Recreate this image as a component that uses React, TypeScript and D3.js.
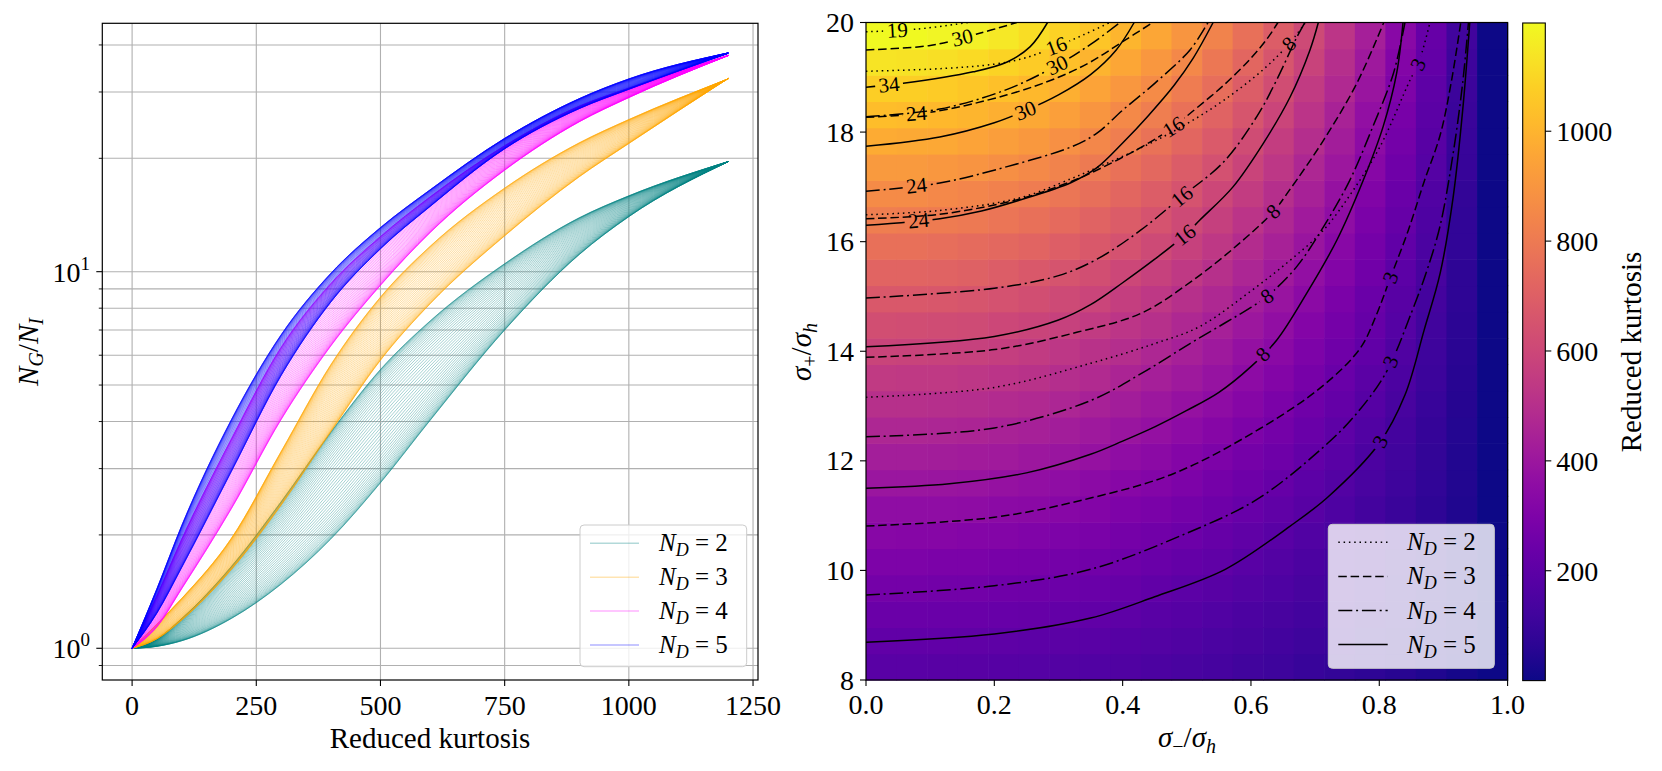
import React from 'react';
import * as d3 from 'd3';

const W = 1662;
const H = 771;
const TS: React.CSSProperties = { fontFamily: 'Liberation Serif, Times New Roman, serif' };

// ---- left panel: N_G/N_I vs reduced kurtosis, one band of curves per N_D ----
const kurtGrid = [0, 50, 100, 200, 300, 400, 500, 600, 750, 900, 1000, 1200];
const tealLower = [1, 1.012, 1.047, 1.2, 1.48, 1.95, 2.75, 4.03, 7.0, 11.1, 14.0, 19.6];
const tealUpper = [1, 1.059, 1.2, 1.65, 2.45, 3.75, 5.5, 7.4, 10.5, 13.9, 15.9, 19.6];
const orangeLower = [1, 1.059, 1.189, 1.62, 2.4, 3.76, 5.82, 8.22, 12.45, 17.86, 21.9, 32.6];
const orangeUpper = [1, 1.16, 1.357, 1.96, 3.33, 5.66, 8.56, 11.68, 16.67, 21.98, 25.35, 32.5];
const magentaLower = [1, 1.14, 1.44, 2.35, 4.05, 6.35, 9.2, 12.7, 18.6, 25.0, 29.0, 37.5];
const magentaUpper = [1, 1.38, 1.95, 3.6, 6.3, 9.3, 12.4, 15.8, 21.6, 27.5, 30.7, 37.5];
const blueLower = [1, 1.24, 1.64, 2.95, 5.3, 8.3, 11.5, 14.9, 21.2, 27.1, 30.5, 38];
const blueUpper = [1, 1.44, 2.12, 4.05, 6.8, 9.9, 13.1, 16.5, 22.6, 28.8, 32.5, 38.1];

const ndValues = [2, 3, 4, 5];
const bandColors = ['teal', 'orange', 'magenta', 'blue'];
const curvesPerBand = 50;

const xTicksL = [0, 250, 500, 750, 1000, 1250];
const yMajorL = [1, 10];
const yMinorL = [0.9, 2, 3, 4, 5, 6, 7, 8, 9, 20, 30, 40];

// ---- right panel: reduced kurtosis map over sigma_-/sigma_h, sigma_+/sigma_h ----
const sigmaMinus = [0, 0.05, 0.1, 0.15, 0.2, 0.25, 0.3, 0.35, 0.4, 0.45, 0.5, 0.55, 0.6, 0.65, 0.7, 0.75, 0.8, 0.85, 0.9, 0.95, 1.0];
const sigmaPlus = [8, 8.5, 9, 9.5, 10, 10.5, 11, 11.5, 12, 12.5, 13, 13.5, 14, 14.5, 15, 15.5, 16, 16.5, 17, 17.5, 18, 18.5, 19, 19.5, 20];
const kurtosisMap = [
  [189, 189, 187, 185, 181, 177, 172, 166, 159, 151, 142, 132, 121, 109, 96, 83, 68, 52, 36, 18, 0],
  [214, 213, 212, 209, 205, 200, 195, 188, 180, 170, 160, 149, 137, 123, 109, 94, 77, 59, 41, 21, 0],
  [240, 239, 238, 235, 230, 225, 218, 211, 202, 191, 180, 167, 154, 139, 122, 105, 86, 67, 46, 23, 0],
  [268, 267, 265, 262, 257, 251, 244, 235, 225, 214, 201, 187, 171, 155, 137, 117, 96, 74, 51, 26, 0],
  [297, 296, 294, 290, 285, 278, 270, 261, 249, 237, 223, 207, 190, 172, 151, 130, 107, 82, 56, 29, 0],
  [328, 327, 324, 320, 315, 307, 298, 288, 275, 261, 246, 229, 210, 189, 167, 143, 118, 91, 62, 32, 0],
  [360, 359, 356, 352, 346, 338, 328, 316, 302, 287, 270, 251, 230, 208, 184, 158, 130, 100, 68, 35, 0],
  [394, 393, 390, 385, 378, 369, 358, 346, 331, 314, 295, 275, 252, 227, 201, 172, 142, 109, 75, 38, 0],
  [429, 428, 425, 419, 412, 402, 390, 376, 360, 342, 322, 299, 275, 248, 219, 188, 154, 119, 82, 42, 0],
  [466, 465, 461, 455, 447, 437, 424, 409, 391, 371, 349, 325, 298, 269, 238, 204, 168, 129, 88, 45, 0],
  [504, 503, 499, 493, 484, 473, 459, 442, 423, 402, 378, 352, 323, 291, 257, 221, 181, 140, 96, 49, 0],
  [544, 542, 538, 532, 522, 510, 495, 477, 457, 434, 408, 379, 348, 314, 277, 238, 196, 151, 103, 53, 0],
  [585, 584, 579, 572, 562, 548, 532, 513, 491, 467, 439, 408, 374, 338, 298, 256, 211, 162, 111, 57, 0],
  [628, 626, 621, 614, 603, 589, 571, 551, 527, 501, 471, 438, 402, 363, 320, 275, 226, 174, 119, 61, 0],
  [672, 670, 665, 657, 645, 630, 612, 590, 564, 536, 504, 469, 430, 388, 343, 294, 242, 186, 128, 66, 0],
  [718, 716, 711, 702, 689, 673, 653, 630, 603, 572, 538, 501, 459, 414, 366, 314, 258, 199, 136, 70, 0],
  [765, 763, 757, 748, 734, 717, 696, 671, 643, 610, 574, 534, 490, 442, 390, 335, 275, 212, 145, 75, 0],
  [814, 812, 806, 795, 781, 763, 741, 714, 684, 649, 610, 568, 521, 470, 415, 356, 293, 226, 155, 79, 0],
  [864, 862, 855, 845, 829, 810, 786, 758, 726, 689, 648, 603, 553, 499, 441, 378, 311, 240, 164, 84, 0],
  [916, 913, 907, 895, 879, 859, 833, 804, 769, 730, 687, 639, 586, 529, 467, 401, 330, 254, 174, 89, 0],
  [969, 967, 959, 947, 930, 908, 882, 850, 814, 773, 727, 676, 620, 560, 494, 424, 349, 269, 184, 94, 0],
  [1024, 1021, 1014, 1001, 983, 960, 932, 898, 860, 816, 768, 714, 655, 591, 522, 448, 369, 284, 195, 100, 0],
  [1080, 1077, 1069, 1056, 1037, 1013, 983, 948, 907, 861, 810, 753, 691, 624, 551, 473, 389, 300, 205, 105, 0],
  [1138, 1135, 1126, 1112, 1092, 1067, 1035, 998, 956, 907, 853, 794, 728, 657, 580, 498, 410, 316, 216, 111, 0],
  [1197, 1194, 1185, 1170, 1149, 1122, 1089, 1050, 1005, 955, 898, 835, 766, 691, 610, 524, 431, 332, 227, 117, 0],
];

// contour lines of N_G/N_I, points as [sigma_-/sigma_h, sigma_+/sigma_h]
const solid3 = [[0, 8.69], [0.2, 8.84], [0.35, 9.13], [0.45, 9.52], [0.56, 10.02], [0.66, 10.8], [0.72, 11.34], [0.8, 12.32], [0.84, 13.2], [0.87, 14.39], [0.895, 15.43], [0.915, 16.8], [0.93, 18.4], [0.941, 20]];
const dashdot3 = [[0, 9.55], [0.2, 9.72], [0.35, 10.02], [0.5, 10.68], [0.61, 11.3], [0.71, 12.22], [0.76, 12.8], [0.81, 13.6], [0.85, 14.7], [0.875, 15.5], [0.895, 16.3], [0.915, 17.6], [0.93, 18.9], [0.939, 20]];
const dashed3 = [[0, 10.81], [0.2, 10.97], [0.35, 11.32], [0.48, 11.77], [0.61, 12.56], [0.71, 13.35], [0.77, 14.05], [0.795, 14.65], [0.816, 15.3], [0.845, 16.2], [0.87, 17.1], [0.895, 17.95], [0.912, 18.9], [0.927, 20]];
const solid8 = [[0, 11.5], [0.13, 11.58], [0.25, 11.78], [0.35, 12.12], [0.4, 12.36], [0.45, 12.62], [0.5, 12.92], [0.55, 13.25], [0.6, 13.72], [0.64, 14.2], [0.687, 15.06], [0.734, 16.03], [0.775, 17.12], [0.806, 18.1], [0.827, 19.07], [0.837, 20]];
const dashdot8 = [[0, 12.44], [0.2, 12.6], [0.35, 13.1], [0.43, 13.6], [0.505, 14.14], [0.56, 14.52], [0.6, 14.8], [0.627, 15.02], [0.671, 15.54], [0.713, 16.27], [0.754, 17.12], [0.79, 18.1], [0.822, 19.07], [0.84, 20]];
const dotted3 = [[0, 13.16], [0.2, 13.34], [0.35, 13.78], [0.45, 14.14], [0.52, 14.45], [0.6, 15.1], [0.66, 15.65], [0.713, 16.21], [0.76, 16.95], [0.801, 17.73], [0.848, 18.95], [0.861, 19.25], [0.879, 20]];
const dashed8 = [[0, 13.89], [0.2, 14.03], [0.33, 14.35], [0.43, 14.7], [0.51, 15.3], [0.58, 15.95], [0.635, 16.55], [0.66, 16.94], [0.713, 17.85], [0.765, 18.89], [0.807, 20]];
const solid16 = [[0, 14.08], [0.2, 14.27], [0.3, 14.57], [0.35, 14.85], [0.4, 15.25], [0.45, 15.68], [0.497, 16.12], [0.52, 16.39], [0.572, 17.0], [0.619, 17.79], [0.661, 18.64], [0.692, 19.5], [0.705, 20]];
const dashdot16 = [[0, 14.97], [0.2, 15.15], [0.3, 15.38], [0.36, 15.68], [0.427, 16.2], [0.492, 16.82], [0.557, 17.45], [0.61, 18.3], [0.64, 18.95], [0.671, 19.72], [0.684, 20]];
const solid24 = [[0, 16.3], [0.115, 16.42], [0.18, 16.56], [0.24, 16.76], [0.32, 17.08], [0.36, 17.35], [0.4, 17.8], [0.44, 18.3], [0.48, 18.85], [0.51, 19.35], [0.541, 20]];
const dashed16 = [[0, 16.42], [0.115, 16.5], [0.24, 16.78], [0.32, 17.1], [0.35, 17.25], [0.43, 17.73], [0.48, 18.1], [0.505, 18.34], [0.557, 18.85], [0.6, 19.35], [0.625, 19.7], [0.642, 20]];
const dotted8 = [[0, 16.49], [0.115, 16.57], [0.24, 16.8], [0.32, 17.15], [0.35, 17.3], [0.43, 17.72], [0.5, 18.15], [0.56, 18.6], [0.62, 19.15], [0.66, 19.62], [0.685, 20]];
const dashdot24 = [[0, 16.92], [0.115, 17.07], [0.22, 17.37], [0.32, 17.73], [0.36, 17.98], [0.4, 18.4], [0.45, 18.89], [0.505, 19.5], [0.533, 20]];
const solid30 = [[0, 17.74], [0.115, 17.91], [0.2, 18.17], [0.25, 18.4], [0.3, 18.68], [0.35, 19.05], [0.39, 19.5], [0.418, 20]];
const dashdot30 = [[0, 18.28], [0.115, 18.42], [0.22, 18.78], [0.298, 19.22], [0.35, 19.6], [0.396, 20]];
const dashed24 = [[0, 18.27], [0.1, 18.36], [0.22, 18.68], [0.3, 19.0], [0.35, 19.28], [0.4, 19.65], [0.447, 20]];
const solid34 = [[0, 18.82], [0.058, 18.89], [0.167, 19.1], [0.22, 19.28], [0.256, 19.56], [0.283, 20]];
const dotted16 = [[0, 19.11], [0.12, 19.16], [0.2, 19.24], [0.25, 19.36], [0.3, 19.58], [0.34, 19.78], [0.38, 20]];
const dashed30 = [[0, 19.5], [0.1, 19.58], [0.167, 19.77], [0.235, 20]];
const dotted19 = [[0, 19.83], [0.08, 19.88], [0.16, 20]];

const contourLines = [
  { pts: solid3, nd: 5, label: '3', at: [0.797, 12.38] },
  { pts: dashdot3, nd: 4, label: '3', at: [0.816, 13.82] },
  { pts: dashed3, nd: 3, label: '3', at: [0.816, 15.35] },
  { pts: solid8, nd: 5, label: '8', at: [0.616, 13.97] },
  { pts: dashdot8, nd: 4, label: '8', at: [0.627, 14.97] },
  { pts: dotted3, nd: 2, label: '3', at: [0.858, 19.25] },
  { pts: dashed8, nd: 3, label: '8', at: [0.635, 16.55] },
  { pts: solid16, nd: 5, label: '16', at: [0.497, 16.12] },
  { pts: dashdot16, nd: 4, label: '16', at: [0.492, 16.83] },
  { pts: solid24, nd: 5, label: '24', at: [0.082, 16.37] },
  { pts: dashed16, nd: 3, label: '16', at: [0.479, 18.1] },
  { pts: dotted8, nd: 2, label: '8', at: [0.66, 19.6] },
  { pts: dashdot24, nd: 4, label: '24', at: [0.079, 17.0] },
  { pts: solid30, nd: 5, label: '30', at: [0.246, 18.47] },
  { pts: dashdot30, nd: 4, label: '30', at: [0.298, 19.22] },
  { pts: dashed24, nd: 3, label: '24', at: [0.079, 18.3] },
  { pts: solid34, nd: 5, label: '34', at: [0.036, 18.86] },
  { pts: dotted16, nd: 2, label: '16', at: [0.295, 19.62] },
  { pts: dashed30, nd: 3, label: '30', at: [0.151, 19.68] },
  { pts: dotted19, nd: 2, label: '19', at: [0.049, 19.86] },
];

const dashFor: Record<number, string> = { 2: '1.5 3.8', 3: '8.5 3.8', 4: '14 3.8 2 3.8', 5: '' };

const xTicksR = [0, 0.2, 0.4, 0.6, 0.8, 1.0];
const yTicksR = [8, 10, 12, 14, 16, 18, 20];
const cbTicks = [200, 400, 600, 800, 1000];

// ---- scales ----
const xL = d3.scaleLinear().domain([-60, 1260]).range([102.3, 758]);
const yL = d3.scaleLog().domain([0.8237, 45.66]).range([680, 23.3]);
const xR = d3.scaleLinear().domain([0, 1]).range([866, 1507.6]);
const yR = d3.scaleLinear().domain([8, 20]).range([680, 22.5]);
const kMax = d3.max(kurtosisMap.flat()) as number;
const kMin = d3.min(kurtosisMap.flat()) as number;
const color = d3.scaleSequential(d3.interpolatePlasma).domain([kMin, kMax]);
const cbX = 1522.7;
const cbW = 22.6;
const yC = d3.scaleLinear().domain([kMin, kMax]).range([680.6, 23]);

const bandLine = d3.line<[number, number]>().curve(d3.curveMonotoneX);
const contourPath = d3.line<[number, number]>().curve(d3.curveCatmullRom.alpha(0.5));

function bandCurves(lower: number[], upper: number[]) {
  const out: string[] = [];
  for (let k = 0; k < curvesPerBand; k++) {
    const t = (1 - Math.cos((Math.PI * k) / (curvesPerBand - 1))) / 2;
    const pts = kurtGrid.map((kx, i) => {
      const v = Math.exp((1 - t) * Math.log(lower[i]) + t * Math.log(upper[i]));
      return [xL(kx), yL(v)] as [number, number];
    });
    out.push(bandLine(pts) as string);
  }
  return out;
}

const bands = [
  bandCurves(tealLower, tealUpper),
  bandCurves(orangeLower, orangeUpper),
  bandCurves(magentaLower, magentaUpper),
  bandCurves(blueLower, blueUpper),
];

// place a label on its contour: nearest point and local direction
function labelPlacement(px: [number, number][], at: [number, number]) {
  let best = { d: Infinity, x: at[0], y: at[1], a: 0 };
  for (let i = 0; i < px.length - 1; i++) {
    const [x1, y1] = px[i];
    const [x2, y2] = px[i + 1];
    const dx = x2 - x1;
    const dy = y2 - y1;
    const len2 = dx * dx + dy * dy;
    let u = ((at[0] - x1) * dx + (at[1] - y1) * dy) / len2;
    u = Math.max(0, Math.min(1, u));
    const qx = x1 + u * dx;
    const qy = y1 + u * dy;
    const d = (qx - at[0]) ** 2 + (qy - at[1]) ** 2;
    if (d < best.d) {
      let a = (Math.atan2(dy, dx) * 180) / Math.PI;
      if (a > 90) a -= 180;
      if (a < -90) a += 180;
      best = { d, x: qx, y: qy, a };
    }
  }
  return best;
}

const ND = ({ n }: { n: number }) => (
  <>
    <tspan fontStyle="italic">N</tspan>
    <tspan fontStyle="italic" fontSize={18} dy={5}>D</tspan>
    <tspan dy={-5}>{` = ${n}`}</tspan>
  </>
);

const App: React.FC = () => {
  const nCols = sigmaMinus.length;
  const nRows = sigmaPlus.length;
  const cellW = (xR(1) - xR(0)) / nCols;
  const cellH = (yR(8) - yR(20)) / nRows;

  const contours = contourLines.map((c) => {
    const px = c.pts.map(([x, y]) => [xR(x), yR(y)] as [number, number]);
    const lp = labelPlacement(px, [xR(c.at[0]), yR(c.at[1])]);
    return { ...c, px, d: contourPath(px) as string, lp };
  });

  const gradStops = d3.range(0, 1.0001, 0.05);

  return (
    <svg width={W} height={H} style={{ position: 'absolute', left: 0, top: 0, ...TS }}>
      <defs>
        <clipPath id="clipR">
          <rect x={xR(0)} y={yR(20)} width={xR(1) - xR(0)} height={yR(8) - yR(20)} />
        </clipPath>
        <linearGradient id="cbGrad" x1="0" y1="1" x2="0" y2="0">
          {gradStops.map((t) => (
            <stop key={t} offset={t} stopColor={d3.interpolatePlasma(t)} />
          ))}
        </linearGradient>
        {contours.map((c, i) => {
          const w = c.label.length * 10 + 8;
          return (
            <mask id={`cm${i}`} key={i} maskUnits="userSpaceOnUse" x={0} y={0} width={W} height={H}>
              <rect x={0} y={0} width={W} height={H} fill="white" />
              <rect
                x={-w / 2}
                y={-8}
                width={w}
                height={16}
                fill="black"
                transform={`translate(${c.lp.x},${c.lp.y}) rotate(${c.lp.a})`}
              />
            </mask>
          );
        })}
      </defs>
      <rect width={W} height={H} fill="white" />

      {/* ---------- left panel ---------- */}
      <g>
        {xTicksL.map((t) => (
          <line key={t} x1={xL(t)} x2={xL(t)} y1={23.3} y2={680} stroke="#b0b0b0" strokeWidth={1.1} />
        ))}
        {[...yMajorL, ...yMinorL].map((t) => (
          <line key={t} x1={102.3} x2={758} y1={yL(t)} y2={yL(t)} stroke="#b0b0b0" strokeWidth={1.1} />
        ))}
        {bands.map((paths, b) => (
          <g key={b} fill="none" stroke={bandColors[b]} strokeWidth={0.8} strokeOpacity={0.45}>
            {paths.map((d, i) => (
              <path key={i} d={d} />
            ))}
          </g>
        ))}
        <rect x={102.3} y={23.3} width={758 - 102.3} height={680 - 23.3} fill="none" stroke="black" strokeWidth={1.2} />
        {xTicksL.map((t) => (
          <g key={t}>
            <line x1={xL(t)} x2={xL(t)} y1={680} y2={686} stroke="black" strokeWidth={1.1} />
            <text x={xL(t)} y={715} fontSize={28} textAnchor="middle" style={TS}>{t}</text>
          </g>
        ))}
        {yMajorL.map((t, i) => (
          <g key={t}>
            <line x1={96.3} x2={102.3} y1={yL(t)} y2={yL(t)} stroke="black" strokeWidth={1.1} />
            <text x={90} y={yL(t) + 10} fontSize={28} textAnchor="end" style={TS}>
              10<tspan fontSize={19} dy={-12}>{i}</tspan>
            </text>
          </g>
        ))}
        {yMinorL.map((t) => (
          <line key={t} x1={98.8} x2={102.3} y1={yL(t)} y2={yL(t)} stroke="black" strokeWidth={0.9} />
        ))}
        <text x={430} y={748} fontSize={29} textAnchor="middle" style={TS}>Reduced kurtosis</text>
        <text transform="translate(38,352) rotate(-90)" fontSize={29} textAnchor="middle" style={TS}>
          <tspan fontStyle="italic">N</tspan>
          <tspan fontStyle="italic" fontSize={20} dy={5}>G</tspan>
          <tspan dy={-5}>/</tspan>
          <tspan fontStyle="italic">N</tspan>
          <tspan fontStyle="italic" fontSize={20} dy={5}>I</tspan>
        </text>
        {/* legend */}
        <rect x={580} y={525} width={166.7} height={141.7} rx={4} fill="white" fillOpacity={0.8} stroke="#cccccc" strokeWidth={1} />
        {ndValues.map((n, i) => {
          const y = 543.3 + i * 33.9;
          return (
            <g key={n}>
              <line x1={590} x2={639} y1={y} y2={y} stroke={bandColors[i]} strokeOpacity={0.3} strokeWidth={1.5} />
              <text x={659} y={y + 8} fontSize={25} style={TS}><ND n={n} /></text>
            </g>
          );
        })}
      </g>

      {/* ---------- right panel ---------- */}
      <g>
        {kurtosisMap.map((row, i) =>
          row.map((v, j) => (
            <rect
              key={`${i}-${j}`}
              x={xR(0) + j * cellW}
              y={yR(8) - (i + 1) * cellH}
              width={cellW + 0.6}
              height={cellH + 0.6}
              fill={color(v)}
            />
          ))
        )}
        <g clipPath="url(#clipR)">
          {contours.map((c, i) => (
            <path
              key={i}
              d={c.d}
              fill="none"
              stroke="black"
              strokeWidth={1.5}
              strokeDasharray={dashFor[c.nd]}
              mask={`url(#cm${i})`}
            />
          ))}
        </g>
        {contours.map((c, i) => (
          <text
            key={i}
            transform={`translate(${c.lp.x},${c.lp.y}) rotate(${c.lp.a})`}
            fontSize={21}
            textAnchor="middle"
            dominantBaseline="central"
            style={TS}
          >
            {c.label}
          </text>
        ))}
        <rect x={866} y={22.5} width={641.6} height={657.5} fill="none" stroke="black" strokeWidth={1.2} />
        {xTicksR.map((t) => (
          <g key={t}>
            <line x1={xR(t)} x2={xR(t)} y1={680} y2={686} stroke="black" strokeWidth={1.1} />
            <text x={xR(t)} y={714} fontSize={28} textAnchor="middle" style={TS}>{t.toFixed(1)}</text>
          </g>
        ))}
        {yTicksR.map((t) => (
          <g key={t}>
            <line x1={860} x2={866} y1={yR(t)} y2={yR(t)} stroke="black" strokeWidth={1.1} />
            <text x={854} y={yR(t) + 9.5} fontSize={28} textAnchor="end" style={TS}>{t}</text>
          </g>
        ))}
        <text x={1187} y={747} fontSize={29} textAnchor="middle" style={TS}>
          <tspan fontStyle="italic">σ</tspan>
          <tspan fontSize={20} dy={6}>−</tspan>
          <tspan dy={-6}>/</tspan>
          <tspan fontStyle="italic">σ</tspan>
          <tspan fontStyle="italic" fontSize={20} dy={6}>h</tspan>
        </text>
        <text transform="translate(811,352) rotate(-90)" fontSize={29} textAnchor="middle" style={TS}>
          <tspan fontStyle="italic">σ</tspan>
          <tspan fontSize={20} dy={6}>+</tspan>
          <tspan dy={-6}>/</tspan>
          <tspan fontStyle="italic">σ</tspan>
          <tspan fontStyle="italic" fontSize={20} dy={6}>h</tspan>
        </text>
        {/* legend */}
        <rect x={1328.3} y={524.3} width={166} height={144} rx={4} fill="white" fillOpacity={0.8} stroke="#cccccc" strokeWidth={1} />
        {ndValues.map((n, i) => {
          const y = 542.3 + i * 34.1;
          return (
            <g key={n}>
              <line x1={1338.3} x2={1387.7} y1={y} y2={y} stroke="black" strokeWidth={1.5} strokeDasharray={dashFor[n]} />
              <text x={1407} y={y + 8} fontSize={25} style={TS}><ND n={n} /></text>
            </g>
          );
        })}
      </g>

      {/* ---------- colorbar ---------- */}
      <g>
        <rect x={cbX} y={yC(kMax)} width={cbW} height={yC(kMin) - yC(kMax)} fill="url(#cbGrad)" stroke="black" strokeWidth={1.1} />
        {cbTicks.map((t) => (
          <g key={t}>
            <line x1={cbX + cbW} x2={cbX + cbW + 6} y1={yC(t)} y2={yC(t)} stroke="black" strokeWidth={1.1} />
            <text x={cbX + cbW + 11} y={yC(t) + 10} fontSize={28} style={TS}>{t}</text>
          </g>
        ))}
        <text transform="translate(1641,352) rotate(-90)" fontSize={29} textAnchor="middle" style={TS}>Reduced kurtosis</text>
      </g>
    </svg>
  );
};

export default App;
